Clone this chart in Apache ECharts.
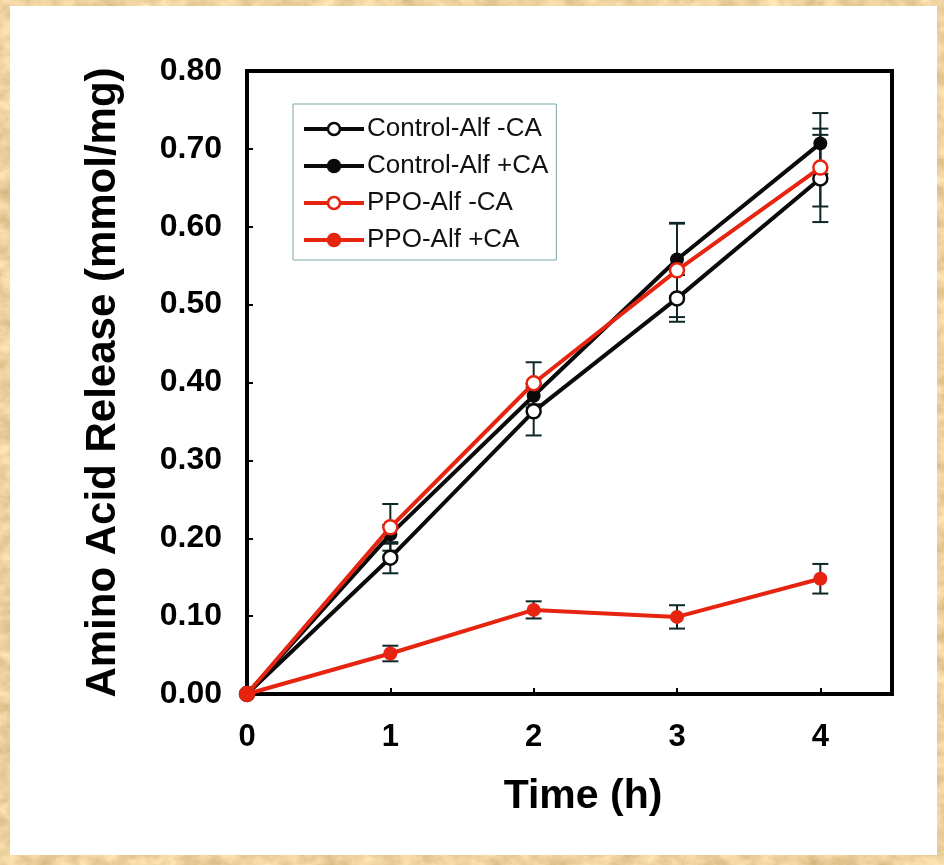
<!DOCTYPE html>
<html>
<head>
<meta charset="utf-8">
<script src="https://cdn.jsdelivr.net/npm/echarts@6/dist/echarts.min.js"></script>
<style>
  html, body { margin: 0; padding: 0; }
  body {
    width: 944px; height: 865px; position: relative; overflow: hidden;
    background-color: #e8cf9c;
    background-image: url("data:image/svg+xml;utf8,<svg xmlns='http://www.w3.org/2000/svg' width='944' height='865'><filter id='p' color-interpolation-filters='sRGB'><feTurbulence type='fractalNoise' baseFrequency='0.05 0.07' numOctaves='4' seed='7'/><feColorMatrix type='matrix' values='0.26 0 0 0 0.80  0.28 0 0 0 0.68  0.32 0 0 0 0.46  0 0 0 0 1'/></filter><rect width='100%' height='100%' filter='url(%23p)'/></svg>");
  }
  #panel { position: absolute; left: 10px; top: 6px; width: 927px; height: 849px; background: #ffffff; }
  #chart { position: absolute; left: 0; top: 0; width: 944px; height: 865px; }
</style>
</head>
<body>
<div id="panel"></div>
<div id="chart"></div>
<script>
// Sampling times (h)
const times = [0, 1, 2, 3, 4];

// Mean amino acid release (mmol/mg) and error (+/-) for each treatment
const controlMinusCA    = [0, 0.175, 0.363, 0.508, 0.662];
const controlMinusCAErr = [0, 0.020, 0.031, 0.030, 0.056];
const controlPlusCA     = [0, 0.205, 0.383, 0.558, 0.707];
const controlPlusCAErr  = [0, 0.012, 0.015, 0.047, 0.039];
const ppoMinusCA        = [0, 0.214, 0.399, 0.544, 0.676];
const ppoMinusCAErr     = [0, 0.030, 0.027, 0.060, 0.050];
const ppoPlusCA         = [0, 0.052, 0.108, 0.099, 0.148];
const ppoPlusCAErr      = [0, 0.010, 0.011, 0.015, 0.019];

// Axis tick labels
const xTickValues = [0, 1, 2, 3, 4];
const yTickValues = [0, 0.1, 0.2, 0.3, 0.4, 0.5, 0.6, 0.7, 0.8];

const BLACK = '#0a0a0a';
const RED = '#e62410';
const BAR = '#0d2626';

const treatments = [
  { name: 'Control-Alf -CA', mean: controlMinusCA, err: controlMinusCAErr, color: BLACK, open: true },
  { name: 'Control-Alf +CA', mean: controlPlusCA,  err: controlPlusCAErr,  color: BLACK, open: false },
  { name: 'PPO-Alf -CA',     mean: ppoMinusCA,     err: ppoMinusCAErr,     color: RED,   open: true },
  { name: 'PPO-Alf +CA',     mean: ppoPlusCA,      err: ppoPlusCAErr,      color: RED,   open: false }
];

// Vertical error bar with caps, drawn from [x, low, high]
function errorBarItem(params, api) {
  const x = api.value(0);
  const lo = api.coord([x, api.value(1)]);
  const hi = api.coord([x, api.value(2)]);
  const half = 8;
  const style = { stroke: BAR, lineWidth: 2, fill: null };
  return {
    type: 'group',
    children: [
      { type: 'line', shape: { x1: lo[0], y1: lo[1], x2: hi[0], y2: hi[1] }, style },
      { type: 'line', shape: { x1: lo[0] - half, y1: lo[1], x2: lo[0] + half, y2: lo[1] }, style },
      { type: 'line', shape: { x1: hi[0] - half, y1: hi[1], x2: hi[0] + half, y2: hi[1] }, style }
    ]
  };
}

const series = [];
treatments.forEach(t => {
  series.push({
    type: 'custom',
    name: t.name + ' error',
    renderItem: errorBarItem,
    data: times.filter((_, i) => t.err[i] > 0).map(x => {
      const i = times.indexOf(x);
      return [x, t.mean[i] - t.err[i], t.mean[i] + t.err[i]];
    }),
    z: 1,
    silent: true
  });
});
treatments.forEach((t, k) => {
  series.push({
    type: 'line',
    name: t.name,
    data: times.map((x, i) => [x, t.mean[i]]),
    symbol: 'circle',
    symbolSize: 14,
    showAllSymbol: true,
    lineStyle: { color: t.color, width: 4 },
    itemStyle: {
      color: t.open ? '#ffffff' : t.color,
      borderColor: t.color,
      borderWidth: t.open ? 2.5 : 0
    },
    z: 3 + k,
    animation: false
  });
});

const chart = echarts.init(document.getElementById('chart'), null, { renderer: 'canvas' });
chart.setOption({
  animation: false,
  backgroundColor: 'transparent',
  grid: {
    left: 247, right: 52, top: 71, bottom: 171,
    show: true, borderColor: '#000', borderWidth: 4, backgroundColor: 'transparent'
  },
  legend: {
    orient: 'vertical',
    left: 293, top: 104,
    data: treatments.map(t => t.name),
    itemWidth: 60, itemHeight: 15,
    itemGap: 11,
    padding: [12, 8, 7, 9],
    backgroundColor: '#ffffff',
    borderColor: '#7aa8a8',
    borderWidth: 1,
    borderRadius: 0,
    lineStyle: { width: 4 },
    itemStyle: { borderWidth: 2.5 },
    textStyle: { fontFamily: 'Liberation Sans', fontSize: 26, color: '#111', padding: [0, 0, 0, -2] },
    selectedMode: false
  },
  xAxis: {
    type: 'value',
    min: 0, max: 4.5, interval: 1,
    name: 'Time (h)',
    nameLocation: 'middle',
    nameGap: 82,
    nameTextStyle: { fontFamily: 'Liberation Sans', fontWeight: 'bold', fontSize: 41, color: '#000', padding: [0, 0, 0, 27] },
    axisLine: { show: true, onZero: false, lineStyle: { color: '#000', width: 4 } },
    axisTick: { show: true, inside: true, length: 6, lineStyle: { color: '#000', width: 2 }, customValues: [1, 2, 3, 4] },
    axisLabel: {
      customValues: xTickValues,
      margin: 28,
      fontFamily: 'Liberation Sans', fontWeight: 'bold', fontSize: 31, color: '#000',
      formatter: v => String(v)
    },
    splitLine: { show: false }
  },
  yAxis: {
    type: 'value',
    min: 0, max: 0.8, interval: 0.1,
    name: 'Amino Acid Release (mmol/mg)',
    nameLocation: 'middle',
    nameGap: 123,
    nameTextStyle: { fontFamily: 'Liberation Sans', fontWeight: 'bold', fontSize: 42, color: '#000' },
    axisLine: { show: true, lineStyle: { color: '#000', width: 4 } },
    axisTick: { show: true, inside: true, length: 6, lineStyle: { color: '#000', width: 2 }, customValues: yTickValues.slice(1, -1) },
    axisLabel: {
      customValues: yTickValues,
      margin: 25,
      fontFamily: 'Liberation Sans', fontWeight: 'bold', fontSize: 32, color: '#000',
      formatter: v => v.toFixed(2)
    },
    splitLine: { show: false }
  },
  series
});
</script>
</body>
</html>
